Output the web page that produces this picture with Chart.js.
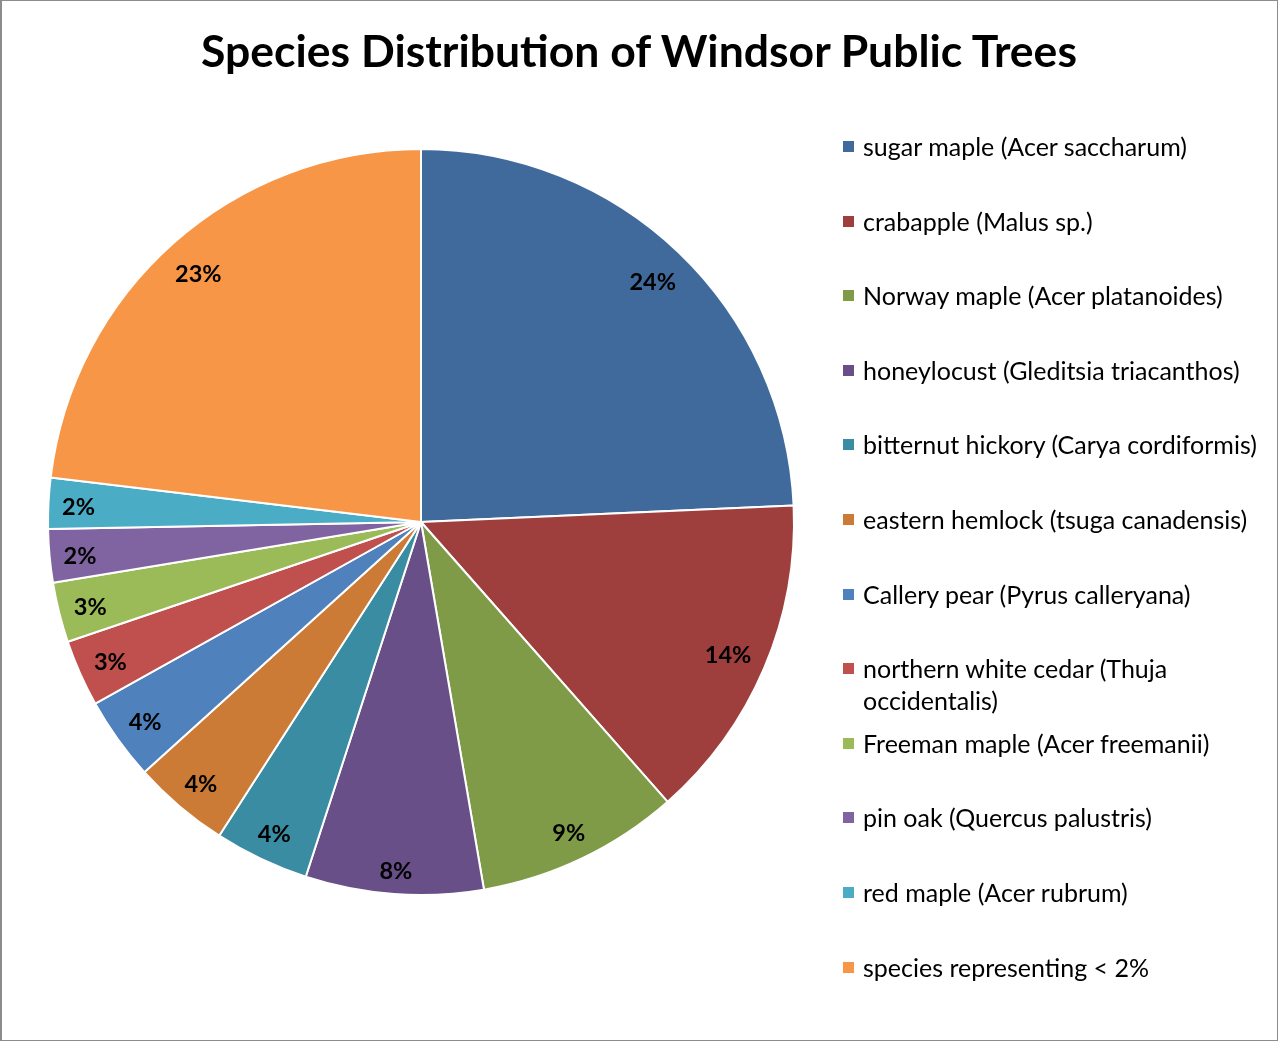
<!DOCTYPE html>
<html>
<head>
<meta charset="utf-8">
<script src="https://cdn.jsdelivr.net/npm/chart.js@4.4.0/dist/chart.umd.min.js"></script>
<style>
  html, body { margin: 0; padding: 0; background: #fff; }
  body { width: 1278px; height: 1042px; position: relative; overflow: hidden; font-family: Lato, "Open Sans", sans-serif; }
  #frame { position: absolute; left: 0; top: 0; width: 1275px; height: 1039px; border: 1px solid #8c8c8c; border-left-width: 2px; }
  #title { position: absolute; left: 0; top: 21px; width: 1278px; text-align: center; font-weight: 700; font-size: 44.5px; color: #000; line-height: 58px; }
  #wrap { position: absolute; left: 0; top: 0; width: 1278px; height: 1042px; }
  #legend { position: absolute; left: 843px; top: 130px; list-style: none; margin: 0; padding: 0; }
  #legend li { height: 74.6px; display: flex; align-items: flex-start; font-size: 25px; line-height: 32px; color: #000; }
  #legend .sw { width: 11px; height: 11px; margin-top: 11px; margin-right: 9px; flex: none; }
  #legend .tx { width: 405px; }
</style>
</head>
<body>
<div id="wrap"><canvas id="pie"></canvas></div>
<div id="title">Species Distribution of Windsor Public Trees</div>
<ul id="legend"></ul>
<div id="frame"></div>
<script>
// ---------- Data (percent of public trees) ----------
const SPECIES = [
  'sugar maple (Acer saccharum)',
  'crabapple (Malus sp.)',
  'Norway maple (Acer platanoides)',
  'honeylocust (Gleditsia triacanthos)',
  'bitternut hickory (Carya cordiformis)',
  'eastern hemlock (tsuga canadensis)',
  'Callery pear (Pyrus calleryana)',
  'northern white cedar (Thuja occidentalis)',
  'Freeman maple (Acer freemanii)',
  'pin oak (Quercus palustris)',
  'red maple (Acer rubrum)',
  'species representing < 2%'
];
const SHARE = [24.3, 14.2, 8.8, 7.7, 4.1, 4.2, 3.6, 2.9, 2.6, 2.3, 2.2, 23.1];
const COLORS = ['#416A9C','#9E3F3D','#7F9B48','#684F88','#3A8CA2','#CB7B36',
                '#4F81BD','#C0504D','#9BBB59','#8064A2','#4BACC6','#F79646'];

const total = SHARE.reduce((a, b) => a + b, 0);
const pctText = v => Math.round(v / total * 100) + '%';

// inside-end percentage labels: label box pushed in until it sits inside the rim
const sliceLabels = {
  id: 'sliceLabels',
  afterDatasetsDraw(chart) {
    const { ctx } = chart;
    const meta = chart.getDatasetMeta(0);
    ctx.save();
    ctx.font = '700 23.5px Lato, "Open Sans", sans-serif';
    ctx.fillStyle = '#000';
    ctx.textAlign = 'center';
    ctx.textBaseline = 'middle';
    meta.data.forEach((arc, i) => {
      const p = arc.getProps(['x', 'y', 'startAngle', 'endAngle', 'outerRadius'], true);
      const mid = (p.startAngle + p.endAngle) / 2;
      const txt = pctText(SHARE[i]);
      const w = ctx.measureText(txt).width + 4, h = 26;
      const ext = w / 2 * Math.abs(Math.cos(mid)) + h / 2 * Math.abs(Math.sin(mid));
      const r = p.outerRadius - 11 - ext;
      ctx.fillText(txt, p.x + Math.cos(mid) * r, p.y + Math.sin(mid) * r + 3);
    });
    ctx.restore();
  }
};

const chart = new Chart(document.getElementById('pie').getContext('2d'), {
  type: 'pie',
  data: {
    labels: SPECIES,
    datasets: [{ data: SHARE, backgroundColor: COLORS, borderColor: '#fff', borderWidth: 2 }]
  },
  options: {
    responsive: true,
    maintainAspectRatio: false,
    animation: false,
    layout: { padding: { left: 47, right: 483, top: 148, bottom: 146 } },
    plugins: { legend: { display: false }, tooltip: { enabled: false } }
  },
  plugins: [sliceLabels]
});

// ---------- HTML legend ----------
const legendEl = document.getElementById('legend');
SPECIES.forEach((name, i) => {
  const li = document.createElement('li');
  li.innerHTML = `<span class="sw" style="background:${COLORS[i]}"></span><span class="tx">${name.replace('<', '&lt;')}</span>`;
  legendEl.appendChild(li);
});
</script>
</body>
</html>
